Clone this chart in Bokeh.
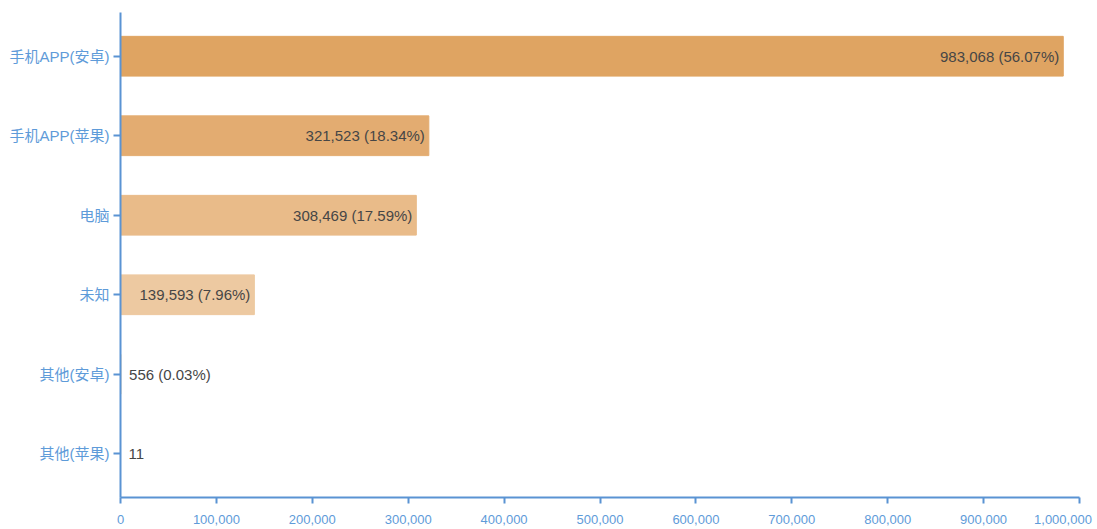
from bokeh.plotting import figure
from bokeh.models import (ColumnDataSource, FactorRange, Range1d, SingleIntervalTicker,
                          NumeralTickFormatter)
from bokeh.core.properties import value
from bokeh.embed import file_html
from bokeh.resources import INLINE

categories = ["手机APP(安卓)", "手机APP(苹果)", "电脑", "未知", "其他(安卓)", "其他(苹果)"]
counts = [983068, 321523, 308469, 139593, 556, 11]
bar_colors = ["#DFA462", "#E3AC71", "#E9BB89", "#EDC9A1", "#F1D4B3", "#F4DEC4"]
x_ticks_max = 1000000
x_tick_step = 100000

FONT = "Liberation Sans, Noto Sans CJK SC, sans-serif"
AXIS_COLOR = "#5A93D3"
LABEL_COLOR = "#5E9BD9"

total = sum(counts)
texts, aligns, offsets = [], [], []
for c in counts:
    pct = c / total * 100
    t = f"{c:,}" if pct < 0.005 else f"{c:,} ({pct:.2f}%)"
    texts.append(t)
    if c > 50000:
        aligns.append("right"); offsets.append(-4)
    else:
        aligns.append("left"); offsets.append(8)

src = ColumnDataSource(dict(cat=categories, v=counts, color=bar_colors,
                            text=texts, align=aligns, xo=offsets))

p = figure(width=1095, height=529, output_backend="svg", toolbar_location=None,
           y_range=FactorRange(factors=list(reversed(categories)), range_padding=0.05,
                               range_padding_units="absolute"),
           x_range=Range1d(0, x_ticks_max),
           min_border_left=120, min_border_right=16, min_border_top=12, min_border_bottom=29)

p.hbar(y="cat", right="v", left=0, height=0.5, fill_color="color", line_color="color",
       line_width=1, source=src)
p.text(x="v", y="cat", text="text", text_align="align", x_offset="xo",
       text_baseline="middle", text_font=value(FONT), text_font_size="15px",
       text_color="#464646", source=src)

p.outline_line_color = None
p.xgrid.grid_line_color = None
p.ygrid.grid_line_color = None
p.background_fill_color = "white"
p.border_fill_color = "white"

xa = p.xaxis[0]
xa.ticker = SingleIntervalTicker(interval=x_tick_step)
xa.formatter = NumeralTickFormatter(format="0,0")
# last label is shifted left so it stays inside the window (padding with a no-break space)
xa.major_label_overrides = {x_ticks_max: f"{x_ticks_max:,}" + "\u00a0"}
xa.minor_tick_line_color = None
xa.major_tick_in = 0
xa.major_tick_out = 6
xa.axis_line_color = AXIS_COLOR
xa.axis_line_width = 2
xa.major_tick_line_color = AXIS_COLOR
xa.major_tick_line_width = 2
xa.major_label_text_color = LABEL_COLOR
xa.major_label_text_font = FONT
xa.major_label_text_font_size = "13px"
xa.major_label_standoff = 8

ya = p.yaxis[0]
ya.major_tick_in = 0
ya.major_tick_out = 7
ya.axis_line_color = AXIS_COLOR
ya.axis_line_width = 2
ya.major_tick_line_color = AXIS_COLOR
ya.major_tick_line_width = 2
ya.major_label_text_color = LABEL_COLOR
ya.major_label_text_font = FONT
ya.major_label_text_font_size = "15px"
ya.major_label_standoff = 4

open("out.html", "w").write(file_html(p, INLINE))
